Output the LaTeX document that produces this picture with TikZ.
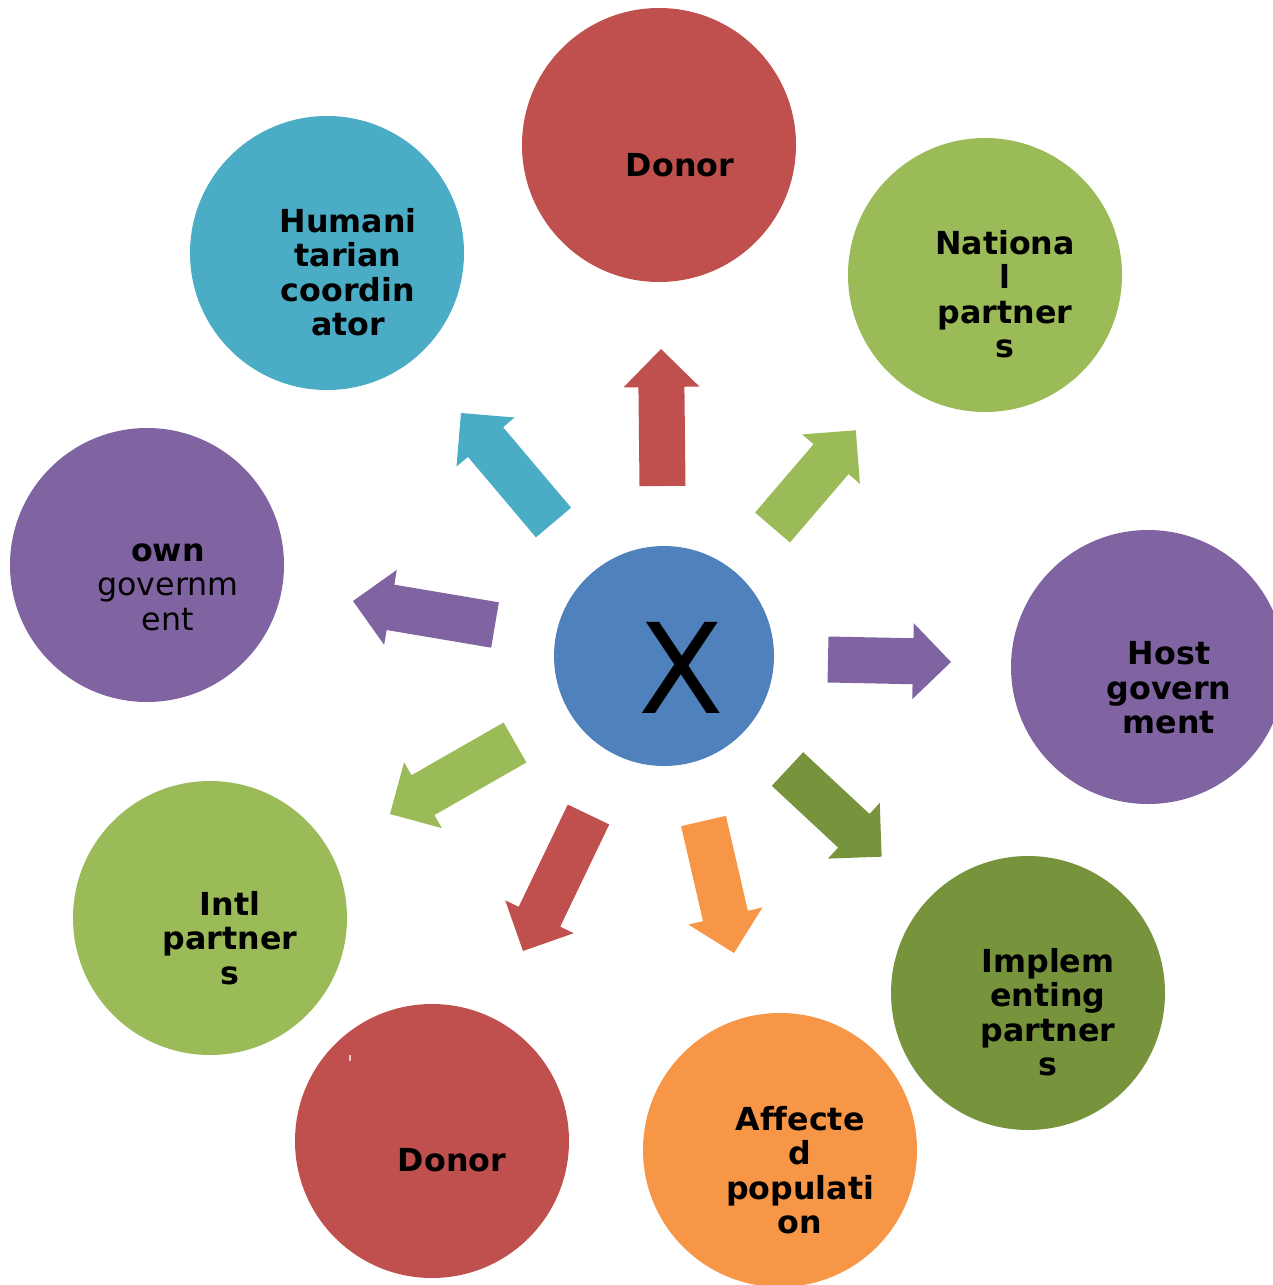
\documentclass[tikz,border=0pt]{standalone}
\usepackage{fontspec}
\setmainfont[Ligatures=NoCommon]{DejaVu Sans}
\usetikzlibrary{calc}
\definecolor{cred}{HTML}{C0504D}
\definecolor{cgreen}{HTML}{9BBB59}
\definecolor{cpurple}{HTML}{8064A2}
\definecolor{cteal}{HTML}{4BACC6}
\definecolor{cdgreen}{HTML}{77933C}
\definecolor{corange}{HTML}{F79646}
\definecolor{cblue}{HTML}{4F81BD}
\newcommand\blockarr[3]{%
  \path let \p1=($(#2)-(#1)$) in \pgfextra{%
    \pgfmathsetmacro\myang{atan2(\y1,\x1)}%
    \pgfmathsetmacro\mylen{veclen(\x1,\y1)}%
    \global\let\myangG\myang\global\let\mylenG\mylen};
  \fill[#3,shift={(#1)},rotate=\myangG]
    (0,-23) -- (\mylenG-38,-23) -- (\mylenG-38,-38) -- (\mylenG,0)
    -- (\mylenG-38,38) -- (\mylenG-38,23) -- (0,23) -- cycle;
}
\begin{document}
\begin{tikzpicture}[x=1pt,y=-1pt,
  bubble/.style={circle,minimum size=274pt,inner sep=0pt,draw=none},
  lbl/.style={align=center,font=\fontsize{31.7}{34.4}\selectfont\bfseries,text=black,inner sep=0pt}]
\useasboundingbox (0,0) rectangle (1272,1285);
\fill[white] (0,0) rectangle (1272,1285);

% circles
\node[bubble,fill=cred]    (donorA) at (659,145) {};
\node[bubble,fill=cgreen]  (natl)   at (985,275) {};
\node[bubble,fill=cpurple] (host)   at (1148,667) {};
\node[bubble,fill=cdgreen] (impl)   at (1028,993) {};
\node[bubble,fill=corange] (affect) at (780,1150) {};
\node[bubble,fill=cred]    (donorB) at (432,1141) {};
\node[bubble,fill=cgreen]  (intl)   at (210,918) {};
\node[bubble,fill=cpurple] (own)    at (147,565) {};
\node[bubble,fill=cteal]   (hum)    at (327,253) {};
\node[circle,minimum size=220pt,inner sep=0pt,fill=cblue] (center) at (664,656) {};

% labels
\node[lbl] (tdonorA) at (680,165) {Donor};
\node[lbl] (tnatl) at (1005,294) {Nationa\\l\\partner\\s};
\node[lbl] (thum) at (348,272) {Humani\\tarian\\coordin\\ator};
\node[lbl] (town) at (168,587) {own\\\mdseries governm\\\mdseries ent};
\node[lbl] (thost) at (1169,688) {Host\\govern\\ment};
\node[lbl] (timpl) at (1048,1012) {Implem\\enting\\partner\\s};
\node[lbl] (taff) at (800,1170) {Affecte\\d\\populati\\on};
\node[lbl] (tdonorB) at (452,1160) {Donor};
\node[lbl] (tintl) at (230,938) {Intl\\partner\\s};
\node[inner sep=0pt,font=\fontsize{125}{125}\selectfont] (tx) at (681,668) {X};
\fill[cred!30!white] (349,1055) rectangle (351,1061);

% arrow end points
\coordinate (upT) at (662.5,486);   \coordinate (upH) at (661,349);
\coordinate (tlT) at (553.5,522.5); \coordinate (tlH) at (461,413);
\coordinate (trT) at (772.5,527.5); \coordinate (trH) at (856,430);
\coordinate (lT)  at (495,625);     \coordinate (lH)  at (353,601);
\coordinate (blT) at (515,742.5);   \coordinate (blH) at (390,814);
\coordinate (bdT) at (588.5,814.5); \coordinate (bdH) at (523,951);
\coordinate (boT) at (703.5,821);   \coordinate (boH) at (734,953);
\coordinate (rT)  at (828,659.5);   \coordinate (rH)  at (951,662);
\coordinate (brT) at (787.5,769);   \coordinate (brH) at (882,857);

\blockarr{upT}{upH}{cred}
\blockarr{tlT}{tlH}{cteal}
\blockarr{trT}{trH}{cgreen}
\blockarr{lT}{lH}{cpurple}
\blockarr{blT}{blH}{cgreen}
\blockarr{bdT}{bdH}{cred}
\blockarr{boT}{boH}{corange}
\blockarr{rT}{rH}{cpurple}
\blockarr{brT}{brH}{cdgreen}
\end{tikzpicture}
\end{document}
